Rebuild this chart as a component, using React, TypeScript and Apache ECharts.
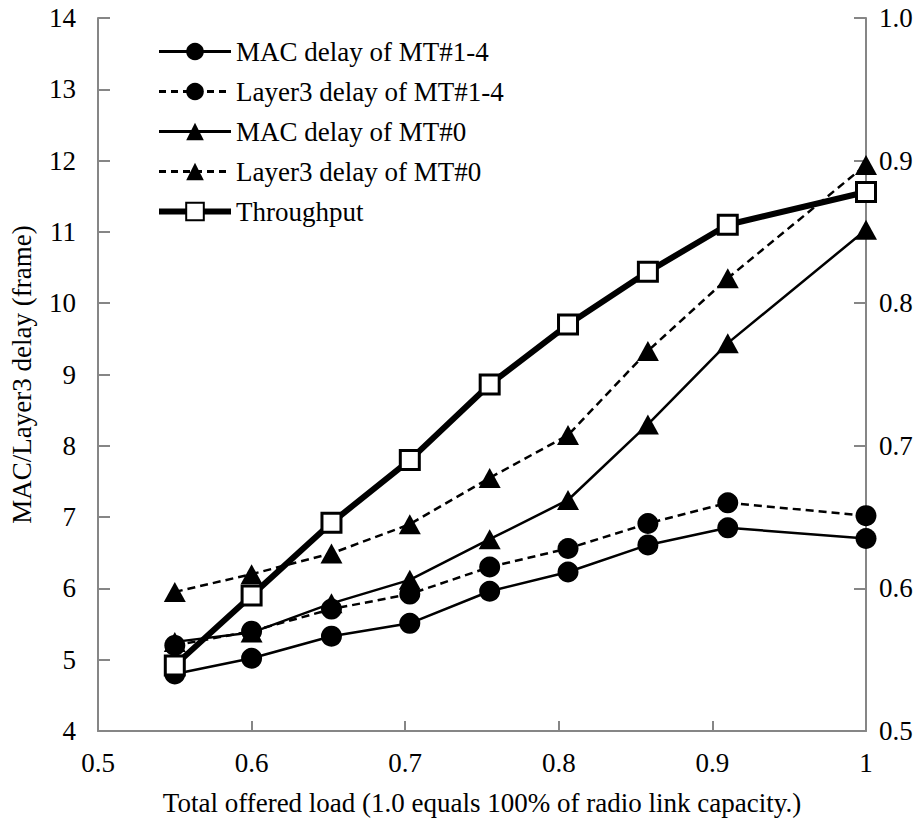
import React, { useEffect, useRef } from "react";
import * as echarts from "echarts";

const loads = [0.55, 0.6, 0.652, 0.703, 0.755, 0.806, 0.858, 0.91, 1.0];
const macMT14 = [4.8, 5.02, 5.33, 5.51, 5.96, 6.23, 6.61, 6.85, 6.7];
const l3MT14 = [5.2, 5.4, 5.71, 5.92, 6.3, 6.56, 6.91, 7.2, 7.02];
const macMT0 = [5.25, 5.38, 5.79, 6.12, 6.69, 7.24, 8.3, 9.44, 11.03];
const l3MT0 = [5.95, 6.2, 6.49, 6.9, 7.55, 8.15, 9.33, 10.35, 11.94];
const throughput = [0.546, 0.595, 0.646, 0.69, 0.743, 0.785, 0.822, 0.855, 0.878];
const seriesNames = [
  "MAC delay of MT#1-4",
  "Layer3 delay of MT#1-4",
  "MAC delay of MT#0",
  "Layer3 delay of MT#0",
  "Throughput",
];

const FONT = "Liberation Serif";
const AXIS_COLOR = "#868686";
const FS = 27;

function pairs(ys: number[]) {
  return loads.map((x, i) => [x, ys[i]]);
}

export default function App() {
  const ref = useRef<HTMLDivElement>(null);
  useEffect(() => {
    document.body.style.margin = "0";
    if (!ref.current) return;
    const chart = echarts.init(ref.current, undefined, { renderer: "svg" });
    const lineSeries = (name: string, ys: number[], symbol: string, dashed: boolean, size: any) => ({
      name,
      type: "line",
      data: pairs(ys),
      symbol,
      symbolSize: size,
      lineStyle: { color: "#000", width: 2.5, type: dashed ? [8, 5] : "solid" },
      itemStyle: { color: "#000" },
    });
    const txt = { fontFamily: FONT, fontSize: FS, color: "#000" };
    chart.setOption({
      animation: false,
      backgroundColor: "#fff",
      textStyle: { fontFamily: FONT, color: "#000" },
      grid: { left: 97, right: 51, top: 18, bottom: 89, containLabel: false },
      legend: {
        orient: "vertical",
        left: 151,
        top: 33,
        itemWidth: 72,
        itemHeight: 22,
        itemGap: 13,
        data: [
          { name: seriesNames[0], lineStyle: { width: 3 } },
          { name: seriesNames[1], lineStyle: { width: 3, type: [7, 5] } },
          { name: seriesNames[2], lineStyle: { width: 3 } },
          { name: seriesNames[3], lineStyle: { width: 3, type: [7, 5] } },
          { name: seriesNames[4], lineStyle: { width: 6 } },
        ],
        textStyle: txt,
      },
      xAxis: {
        type: "value",
        min: 0.5,
        max: 1,
        interval: 0.1,
        name: "Total offered load (1.0 equals 100% of radio link capacity.)",
        nameLocation: "middle",
        nameGap: 58,
        nameTextStyle: txt,
        axisLine: { lineStyle: { color: AXIS_COLOR, width: 2 } },
        axisTick: { inside: true, length: 10, lineStyle: { color: AXIS_COLOR, width: 2 } },
        axisLabel: { ...txt, margin: 18, formatter: (v: number) => (v === 1 ? "1" : v.toFixed(1)) },
        splitLine: { show: false },
      },
      yAxis: [
        {
          type: "value",
          min: 4,
          max: 14,
          interval: 1,
          name: "MAC/Layer3 delay (frame)",
          nameLocation: "middle",
          nameGap: 63,
          nameRotate: 90,
          nameTextStyle: txt,
          axisLine: { show: true, lineStyle: { color: AXIS_COLOR, width: 2 } },
          axisTick: { show: true, inside: true, length: 12, lineStyle: { color: AXIS_COLOR, width: 2 } },
          axisLabel: { ...txt, margin: 22 },
          splitLine: { show: false },
        },
        {
          type: "value",
          min: 0.5,
          max: 1.0,
          interval: 0.1,
          position: "right",
          axisLine: { show: true, lineStyle: { color: AXIS_COLOR, width: 2 } },
          axisTick: { show: true, inside: true, length: 12, lineStyle: { color: AXIS_COLOR, width: 2 } },
          axisLabel: { ...txt, margin: 13, formatter: (v: number) => v.toFixed(1) },
          splitLine: { show: false },
        },
      ],
      series: [
        lineSeries(seriesNames[0], macMT14, "circle", false, 21),
        lineSeries(seriesNames[1], l3MT14, "circle", true, 21),
        lineSeries(seriesNames[2], macMT0, "triangle", false, [22, 20]),
        lineSeries(seriesNames[3], l3MT0, "triangle", true, [22, 20]),
        {
          name: seriesNames[4],
          type: "line",
          yAxisIndex: 1,
          data: pairs(throughput),
          symbol: "rect",
          symbolSize: 19,
          lineStyle: { color: "#000", width: 6 },
          itemStyle: { color: "#fff", borderColor: "#000", borderWidth: 3 },
        },
      ],
    });
    return () => chart.dispose();
  }, []);
  return <div ref={ref} style={{ width: 917, height: 821 }} />;
}
